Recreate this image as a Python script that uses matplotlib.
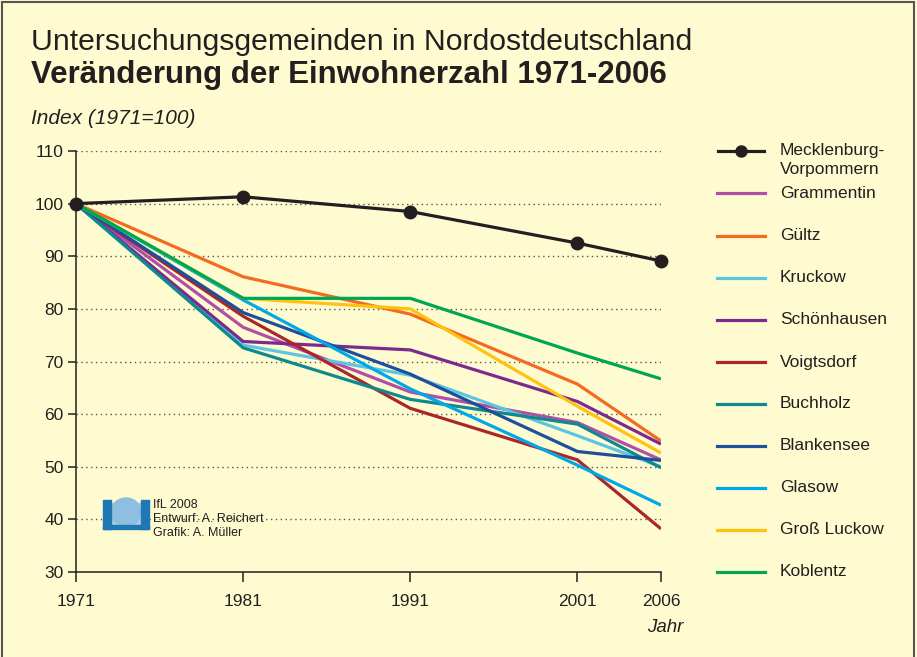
import matplotlib
matplotlib.use("Agg")
import matplotlib.pyplot as plt
from matplotlib.lines import Line2D
from matplotlib.patches import Rectangle, Ellipse

# Index 1971 = 100
years = [1971, 1981, 1991, 2001, 2006]
mv = [100, 101.3, 98.5, 92.5, 89.1]
grammentin = [100, 76.5, 64.2, 58.4, 51.3]
gueltz = [100, 86.1, 79.0, 65.7, 54.9]
kruckow = [100, 73.1, 67.4, 55.9, 50.0]
schoenhausen = [100, 73.8, 72.2, 62.4, 54.3]
voigtsdorf = [100, 78.6, 61.1, 51.3, 38.2]
buchholz = [100, 72.6, 62.8, 58.1, 49.8]
blankensee = [100, 79.3, 67.6, 52.9, 51.2]
glasow = [100, 81.7, 64.8, 50.3, 42.7]
gross_luckow = [100, 82.0, 80.0, 61.5, 52.6]
koblentz = [100, 82.0, 82.0, 71.6, 66.7]

names = ["Grammentin", "Gültz", "Kruckow", "Schönhausen", "Voigtsdorf",
         "Buchholz", "Blankensee", "Glasow", "Groß Luckow", "Koblentz"]
series = [grammentin, gueltz, kruckow, schoenhausen, voigtsdorf,
          buchholz, blankensee, glasow, gross_luckow, koblentz]
colors = ["#b04fa8", "#f26b21", "#5bc5e5", "#7b2a8e", "#a8262c",
          "#0e8a8e", "#1c4f9c", "#00a8e8", "#ffc20e", "#00a651"]

bg = "#fffbd0"
ink = "#231f20"
plt.rcParams["font.family"] = ["Liberation Sans", "DejaVu Sans"]

W, H = 917, 657
fig = plt.figure(figsize=(W / 100, H / 100), dpi=100, facecolor=bg)


def fx(px):
    return px / W


def fy(py):
    return 1 - py / H


ax = fig.add_axes([fx(76), fy(572), fx(661) - fx(76), fy(151) - fy(572)])
ax.set_facecolor(bg)
ax.set_xlim(1971, 2006)
ax.set_ylim(30, 110)

for y in range(40, 111, 10):
    ax.axhline(y, color="#555555", lw=1, ls=(0, (1, 2.5)), zorder=0)

for vals, c in zip(series, colors):
    ax.plot(years, vals, color=c, lw=2.3, solid_capstyle="butt", zorder=2)
ax.plot(years, mv, color=ink, lw=2.3, marker="o", ms=9,
        clip_on=False, zorder=3)

for s in ["top", "right"]:
    ax.spines[s].set_visible(False)
for s in ["left", "bottom"]:
    ax.spines[s].set_color(ink)
    ax.spines[s].set_linewidth(1.1)
ax.set_xticks(years)
ax.set_yticks(range(30, 111, 10))
ax.tick_params(direction="out", length=7, width=1.1, color=ink,
               labelsize=12.5, labelcolor=ink)
ax.tick_params(axis="x", pad=9)
ax.tick_params(axis="y", pad=3, length=6)

# titles
fig.text(fx(31), fy(42), "Untersuchungsgemeinden in Nordostdeutschland",
         fontsize=21.7, color=ink, va="center")
fig.text(fx(31), fy(75), "Veränderung der Einwohnerzahl 1971-2006",
         fontsize=22.5, fontweight="bold", color=ink, va="center")
fig.text(fx(31), fy(119), "Index (1971=100)", style="italic",
         fontsize=15, color=ink, va="center")
fig.text(fx(683), fy(627), "Jahr", style="italic",
         fontsize=13.5, color=ink, va="center", ha="right")

# legend
leg_y = [151, 193, 236, 278, 320, 362, 404, 446, 488, 530, 572]
fig.add_artist(Line2D([fx(718), fx(764)], [fy(151), fy(151)],
                      color=ink, lw=2.3))
fig.add_artist(Line2D([fx(741)], [fy(151)], color=ink, marker="o", ms=8))
fig.text(fx(780), fy(143), "Mecklenburg-\nVorpommern", fontsize=12.5,
         color=ink, va="top", ha="left", linespacing=1.3)
for name, c, yy in zip(names, colors, leg_y[1:]):
    fig.add_artist(Line2D([fx(717), fx(765)], [fy(yy), fy(yy)],
                          color=c, lw=2.3))
    fig.text(fx(780), fy(yy), name, fontsize=12.5, color=ink,
             va="center", ha="left")

# logo + credits
logo_blue = "#1f78b4"
fig.add_artist(Rectangle((fx(111), fy(526)), fx(30), fy(503) - fy(526),
                         color="#a9cfe8", transform=fig.transFigure))
fig.add_artist(Ellipse((fx(126), fy(512)), fx(30), fy(498) - fy(526),
                       color="#8fbfe0", transform=fig.transFigure))
fig.add_artist(Rectangle((fx(103), fy(529)), fx(8), fy(500) - fy(529),
                         color=logo_blue, transform=fig.transFigure))
fig.add_artist(Rectangle((fx(141), fy(529)), fx(8), fy(500) - fy(529),
                         color=logo_blue, transform=fig.transFigure))
fig.add_artist(Rectangle((fx(103), fy(529)), fx(46), fy(525) - fy(529),
                         color=logo_blue, transform=fig.transFigure))
fig.text(fx(153), fy(519), "IfL 2008\nEntwurf: A. Reichert\nGrafik: A. Müller",
         fontsize=9, color=ink, va="center", ha="left", linespacing=1.25)

# frame
fig.add_artist(Rectangle((fx(2), -0.01), fx(912), 0.01 + fy(2), fill=False,
                         ec="#555555", lw=1.5, transform=fig.transFigure))

fig.savefig("out.png", dpi=100, facecolor=bg)
